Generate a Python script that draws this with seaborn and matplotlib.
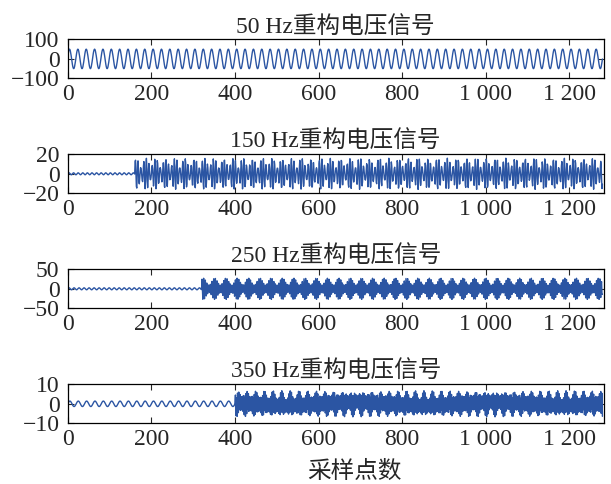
import numpy as np
import pandas as pd
import seaborn as sns
import matplotlib.pyplot as plt
from matplotlib.ticker import FuncFormatter

# reconstructed voltage signals, 1280 samples at 1 kHz
n_samples = 1280
fs = 1000
freqs = [50, 150, 250, 350]
titles = ["50 Hz重构电压信号", "150 Hz重构电压信号", "250 Hz重构电压信号", "350 Hz重构电压信号"]
amps = [50, 11, 19, 5.3]           # main amplitude after onset
beat_amps = [0, 5, 9, 1.4]         # second component giving the uneven envelope
beat_offsets = [0, 43, 37, 47]     # Hz offset of the second component
onsets = [0, 160, 320, 400]       # sample where the harmonic appears
pre_amps = [0, 1.0, 2.5, 1.4]     # small leakage before onset
pre_periods = [20, 11, 12, 20]    # samples per cycle of the leakage
ylims = [100, 20, 50, 10]
xticks = [0, 200, 400, 600, 800, 1000, 1200]

sns.set_style("ticks")
plt.rcParams['font.family'] = ['Liberation Serif', 'Noto Sans CJK SC']
plt.rcParams['axes.unicode_minus'] = True
fsize = 17

n = np.arange(n_samples)
fig = plt.figure(figsize=(6.11, 4.84), dpi=100)
bottoms = [0.838, 0.6006, 0.363, 0.1254]

for i in range(4):
    ax = fig.add_axes([0.111, bottoms[i], 0.877, 0.0806])
    main = amps[i] * np.sin(2 * np.pi * freqs[i] / fs * n + 0.3) \
        + beat_amps[i] * np.sin(2 * np.pi * (freqs[i] + beat_offsets[i]) / fs * n)
    pre = pre_amps[i] * np.sin(2 * np.pi * n / pre_periods[i])
    y = np.where(n >= onsets[i], main, pre)
    df = pd.DataFrame({"n": n, "v": y})
    sns.lineplot(data=df, x="n", y="v", ax=ax, color="#2b55a3", linewidth=1.0)
    ax.set_xlim(0, 1282)
    ax.set_ylim(-ylims[i], ylims[i])
    ax.set_yticks([-ylims[i], 0, ylims[i]])
    ax.set_xticks(xticks)
    ax.xaxis.set_major_formatter(FuncFormatter(lambda v, p: f"{v:,.0f}".replace(",", " ")))
    ax.tick_params(direction="in", top=True, right=True, length=4, width=0.8, labelsize=fsize)
    ax.tick_params(axis="x", pad=4)
    ax.tick_params(axis="y", pad=6)
    for s in ax.spines.values():
        s.set_linewidth(0.9)
        s.set_color("black")
    ax.set_title(titles[i], fontsize=fsize, pad=5)
    ax.set_xlabel("")
    ax.set_ylabel("")
    if i == 3:
        ax.set_xlabel("采样点数", fontsize=fsize)
        ax.xaxis.set_label_coords((355 - 68) / 536, -0.96)

fig.savefig("out.png", dpi=100, facecolor="white")
